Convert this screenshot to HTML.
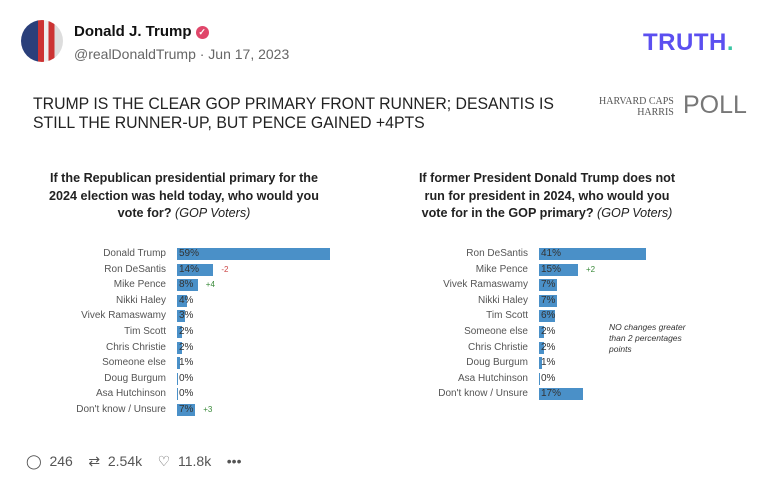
<!DOCTYPE html><html><head><style>
body{margin:0;width:777px;height:493px;background:#fff;position:relative;overflow:hidden;font-family:"Liberation Sans",sans-serif}
.a{position:absolute;white-space:nowrap}
.lb{position:absolute;font-size:10px;color:#555;text-align:right;width:130px;line-height:12px}
.bar{position:absolute;height:12px;background:#4a90c8}
.v{position:absolute;font-size:10px;color:#333;line-height:12px}
.t{position:absolute;font-size:12.6px;font-weight:bold;color:#222;text-align:center;line-height:17.5px}
</style></head><body>
<div class="a" style="left:21px;top:20px;width:42px;height:42px;border-radius:50%;background:linear-gradient(90deg,#2a3f7a 0 40%,#c33 40% 55%,#eee 55% 65%,#c33 65% 80%,#ddd 80%)"></div>
<div class="a" style="left:74px;top:23px;font-size:15px;font-weight:bold;color:#111">Donald J. Trump <span style="display:inline-block;width:13px;height:13px;border-radius:50%;background:#e0466a;color:#fff;font-size:9px;text-align:center;line-height:13px;vertical-align:1px">✓</span></div>
<div class="a" style="left:74px;top:46px;font-size:14px;color:#666">@realDonaldTrump · Jun 17, 2023</div>
<div class="a" style="left:643px;top:29px;font-size:24px;font-weight:900;color:#5b4ff0;letter-spacing:0.5px">TRUTH<span style="color:#3cc6a6">.</span></div>
<div class="a" style="left:33px;top:94px;font-size:17px;color:#222;line-height:19px;transform:scaleX(0.93);transform-origin:left">TRUMP IS THE CLEAR GOP PRIMARY FRONT RUNNER; DESANTIS IS<br>STILL THE RUNNER-UP, BUT PENCE GAINED +4PTS</div>
<div class="a" style="left:599px;top:96px;font-family:'Liberation Serif',serif;font-size:10px;color:#555;line-height:11px;text-align:right">HARVARD CAPS<br>HARRIS</div>
<div class="a" style="left:683px;top:91px;font-size:25px;color:#777;font-weight:300">POLL</div>
<div class="t" style="left:34px;top:170px;width:300px">If the Republican presidential primary for the<br>2024 election was held today, who would you<br>vote for? <i style="font-weight:normal">(GOP Voters)</i></div>
<div class="t" style="left:397px;top:170px;width:300px">If former President Donald Trump does not<br>run for president in 2024, who would you<br>vote for in the GOP primary? <i style="font-weight:normal">(GOP Voters)</i></div>
<div id="L"></div><div id="R"></div>
<div class="a" style="left:609px;top:322px;font-size:8.5px;font-style:italic;color:#333;line-height:11px">NO changes greater<br>than 2 percentages<br>points</div>
<div class="a" style="left:26px;top:453px;font-size:14px;color:#555">◯&nbsp; 246 &nbsp;&nbsp; ⇄&nbsp; 2.54k &nbsp;&nbsp; ♡&nbsp; 11.8k &nbsp;&nbsp; •••</div>
<script>
function mk(id,x0,lx,data,notes){var h='';
data.forEach(function(d,i){var y=248+i*15.6,w=Math.max(d[1]*2.6,1);
h+='<div class="lb" style="left:'+(lx-130)+'px;top:'+y+'px">'+d[0]+'</div>';
h+='<div class="bar" style="left:'+x0+'px;top:'+y+'px;width:'+w+'px"></div>';
h+='<div class="v" style="left:'+(x0+2)+'px;top:'+y+'px">'+d[1]+'%</div>';
if(notes[i])h+='<div class="v" style="font-size:8px;color:'+(notes[i][0]=='-'?'#c44':'#3a8a3a')+';left:'+(x0+w+8)+'px;top:'+y+'px">'+notes[i]+'</div>';});
document.getElementById(id).innerHTML=h;}
mk('L',177,166,[['Donald Trump',59],['Ron DeSantis',14],['Mike Pence',8],['Nikki Haley',4],['Vivek Ramaswamy',3],['Tim Scott',2],['Chris Christie',2],['Someone else',1],['Doug Burgum',0],['Asa Hutchinson',0],["Don't know / Unsure",7]],{1:'-2',2:'+4',10:'+3'});
mk('R',539,528,[['Ron DeSantis',41],['Mike Pence',15],['Vivek Ramaswamy',7],['Nikki Haley',7],['Tim Scott',6],['Someone else',2],['Chris Christie',2],['Doug Burgum',1],['Asa Hutchinson',0],["Don't know / Unsure",17]],{1:'+2'});
</script>
</body></html>
